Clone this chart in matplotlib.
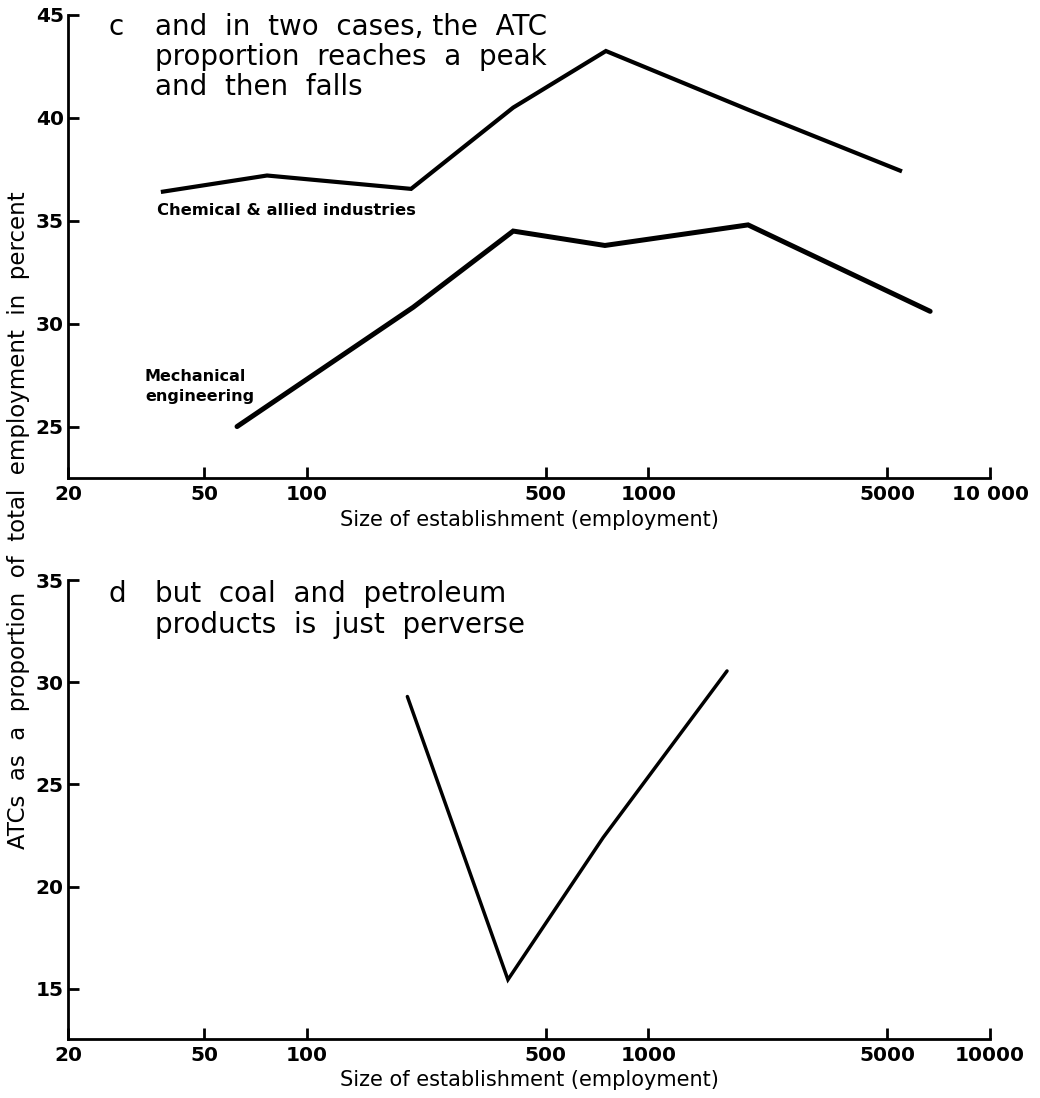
import matplotlib
matplotlib.use("Agg")
import matplotlib.pyplot as plt
from matplotlib.ticker import FixedLocator, FixedFormatter, NullLocator

plt.rcParams['font.family'] = ['DejaVu Sans']

# size of establishment (employment) and ATC share in percent
chem_size = [37.4, 76.5, 202, 402, 751, 1958, 5525]
chem_pct = [36.4, 37.2, 36.55, 40.5, 43.25, 40.4, 37.4]

mech_size = [62.5, 205, 402, 746, 1958, 6680]
mech_pct = [25.0, 30.8, 34.5, 33.8, 34.8, 30.6]

coal_size = [197, 388, 737, 1699]
coal_pct = [29.3, 15.45, 22.4, 30.55]

xticks = [20, 50, 100, 500, 1000, 5000, 10000]
xlabels_c = ["20", "50", "100", "500", "1000", "5000", "10 000"]
xlabels_d = ["20", "50", "100", "500", "1000", "5000", "10000"]

title_c = ["and  in  two  cases, the  ATC",
           "proportion  reaches  a  peak",
           "and  then  falls"]
title_d = ["but  coal  and  petroleum",
           "products  is  just  perverse"]

fig = plt.figure(figsize=(10.4, 10.98), dpi=100)
W, H = 1040, 1098


def box(left, top, right, bottom):
    return [left / W, 1 - bottom / H, (right - left) / W, (bottom - top) / H]


ax_c = fig.add_axes(box(68, 15, 990, 478))
ax_d = fig.add_axes(box(68, 580, 990, 1039))


def style(ax, ylim, yticks, xlabels):
    ax.set_xscale('log')
    ax.set_xlim(20, 10000)
    ax.set_ylim(*ylim)
    ax.spines['top'].set_visible(False)
    ax.spines['right'].set_visible(False)
    for s in ('left', 'bottom'):
        ax.spines[s].set_linewidth(2.0)
    ax.xaxis.set_major_locator(FixedLocator(xticks))
    ax.xaxis.set_major_formatter(FixedFormatter(xlabels))
    ax.xaxis.set_minor_locator(NullLocator())
    ax.set_yticks(yticks)
    ax.tick_params(axis='both', direction='in', length=8, width=2.0,
                   labelsize=14.5)
    ax.tick_params(axis='x', pad=5)
    ax.tick_params(axis='y', pad=3)
    for lab in ax.get_xticklabels() + ax.get_yticklabels():
        lab.set_fontweight('bold')
    ax.set_xlabel("Size of establishment (employment)", fontsize=15,
                  labelpad=4)


style(ax_c, (22.5, 45), [25, 30, 35, 40, 45], xlabels_c)
style(ax_d, (12.55, 35), [15, 20, 25, 30, 35], xlabels_d)

ax_c.plot(chem_size, chem_pct, color='black', lw=3.0,
          solid_joinstyle='miter', solid_capstyle='butt')
ax_c.plot(mech_size, mech_pct, color='black', lw=3.6,
          solid_joinstyle='miter', solid_capstyle='round')
ax_d.plot(coal_size, coal_pct, color='black', lw=2.5,
          solid_joinstyle='miter', solid_capstyle='round')

# series labels
ax_c.text(36.4, 35.29, "Chemical & allied industries", fontsize=11.8,
          fontweight='bold', va='baseline')
ax_c.text(33.6, 26.26, "Mechanical\nengineering", fontsize=11.5,
          fontweight='bold', va='baseline', linespacing=1.4)

# panel captions, one baseline per line
fig.text(108 / W, 1 - 35 / H, "c", fontsize=20, va='baseline')
for i, line in enumerate(title_c):
    fig.text(155 / W, 1 - (35 + 30 * i) / H, line, fontsize=20,
             va='baseline')
fig.text(108 / W, 1 - 602 / H, "d", fontsize=20, va='baseline')
for i, line in enumerate(title_d):
    fig.text(155 / W, 1 - (602 + 31 * i) / H, line, fontsize=20,
             va='baseline')

fig.text(19 / W, 1 - 520 / H,
         "ATCs  as  a  proportion  of  total  employment  in  percent",
         fontsize=16.5, rotation=90, ha='center', va='center')

fig.savefig("out.png", dpi=100)
